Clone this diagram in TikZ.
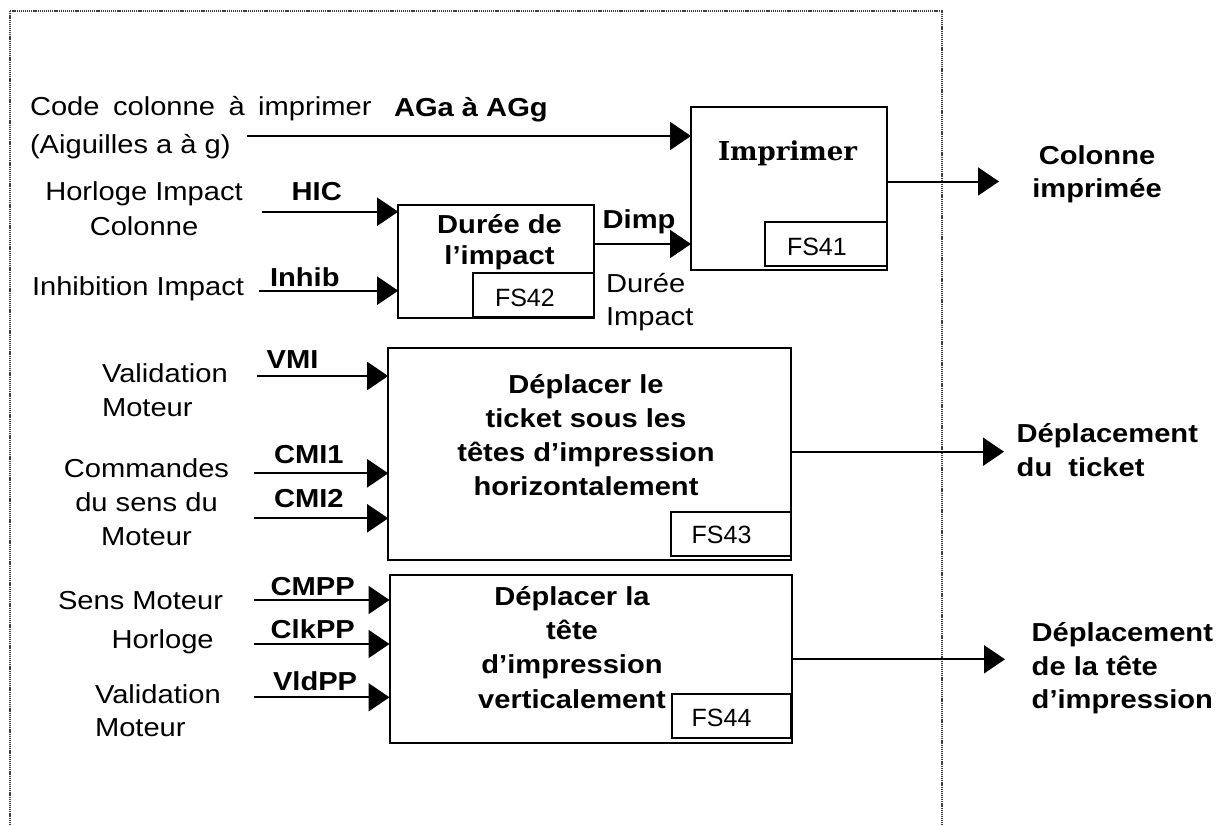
\documentclass[tikz,border=0pt]{standalone}
\usepackage{fontspec}
\setmainfont{Liberation Sans}[FakeStretch=1.12]
\newfontfamily\fsfont{Liberation Sans}
\newfontfamily\impfont{DejaVu Serif}
\usetikzlibrary{arrows.meta}
\newcommand{\widesp}{\spaceskip=13.5pt\relax}
\begin{document}
\begin{tikzpicture}[x=1pt,y=-1pt,
  lbl/.style={inner sep=0pt, outer sep=0pt, font=\fontsize{26}{34}\selectfont},
  bl/.style={lbl, font=\fontsize{26}{34}\selectfont\bfseries},
  fslbl/.style={inner sep=0pt, outer sep=0pt, font=\fsfont\fontsize{25}{30}\selectfont},
  fbox/.style={draw=black, line width=2pt, inner sep=0pt, outer sep=0pt},
  arr/.style={line width=2pt, draw=black, -{Triangle[length=21pt,width=28pt]}},
  frame/.style={line width=2pt, draw=black!75, dash pattern=on 1.2pt off 0.9pt}
]
\useasboundingbox (0,0) rectangle (1231,825);
\fill[white] (0,0) rectangle (1231,825);
% dotted frame
\draw[frame] (10,825) -- (10,10.5) -- (941.5,10.5) -- (941.5,825);

% boxes
\node[fbox, minimum width=196pt, minimum height=163pt] (imp) at (789,188.5) {};
\node[fbox, minimum width=122pt, minimum height=44pt] (fs41) at (826,244) {};
\node[fbox, minimum width=196pt, minimum height=113pt] (dur) at (496.2,261.7) {};
\node[fbox, minimum width=121pt, minimum height=44pt] (fs42) at (533.5,295.2) {};
\node[fbox, minimum width=403pt, minimum height=212pt] (dep) at (589.7,454.2) {};
\node[fbox, minimum width=120pt, minimum height=44pt] (fs43) at (730.8,533.8) {};
\node[fbox, minimum width=402pt, minimum height=168pt] (ver) at (590.5,659.2) {};
\node[fbox, minimum width=119pt, minimum height=44pt] (fs44) at (731.3,716.2) {};

% box texts (multi-line nodes: base = baseline of last line)
\node[lbl, font=\impfont\bfseries\fontsize{26}{30}\selectfont, anchor=base west] (timp) at (718,160.7) {Imprimer};
\node[fslbl, anchor=base west] (tfs41) at (787,255.7) {FS41};
\node[bl, align=center, anchor=base] (tdur) at (499.5,264) {Durée de\\[-3pt]l’impact};
\node[fslbl, anchor=base west] (tfs42) at (495,306.7) {FS42};
\node[bl, align=center, anchor=base] (tdep) at (586,495.3) {Déplacer le\\ticket sous les\\têtes d’impression\\horizontalement};
\node[fslbl, anchor=base west] (tfs43) at (691.7,543) {FS43};
\node[bl, align=center, anchor=base] (tver) at (572,708.3) {Déplacer la\\[0.4pt]tête\\[0.4pt]d’impression\\[0.4pt]verticalement};
\node[fslbl, anchor=base west] (tfs44) at (691.7,726.7) {FS44};

% input labels
\node[lbl, anchor=base west] (tcode) at (30,115) {\widesp Code colonne à imprimer};
\node[bl, anchor=base west] (tag) at (394,116.5) {AGa à AGg};
\node[lbl, anchor=base west] (taig) at (30,153) {(Aiguilles a à g)};
\node[lbl, align=center, anchor=base] (thor) at (144,235) {Horloge Impact\\[1pt]Colonne};
\node[lbl, anchor=base west] (tinh) at (32,295) {Inhibition Impact};
\node[bl, anchor=base west] (thic) at (291.7,200) {HIC};
\node[bl, anchor=base west] (tinhib) at (270,286.7) {Inhib};
\node[bl, anchor=base west] (tdimp) at (602.7,228) {Dimp};
\node[lbl, align=left, anchor=base west] (tduri) at (606,325) {Durée\\[-1.7pt]Impact};

\node[lbl, align=left, anchor=base west] (tval1) at (102,416) {Validation\\Moteur};
\node[lbl, align=center, anchor=base] (tcom) at (146.5,545.7) {Commandes\\du sens du\\Moteur};
\node[bl, anchor=base west] (tvmi) at (266.7,368.3) {VMI};
\node[bl, anchor=base west] (tcmi1) at (274,463.3) {CMI1};
\node[bl, anchor=base west] (tcmi2) at (274,507.7) {CMI2};

\node[lbl, anchor=base west] (tsens) at (58,609.3) {Sens Moteur};
\node[lbl, anchor=base west] (thorl) at (111.7,648) {Horloge};
\node[lbl, align=left, anchor=base west] (tval2) at (95,736.7) {Validation\\[-0.6pt]Moteur};
\node[bl, anchor=base west] (tcmpp) at (270.7,595) {CMPP};
\node[bl, anchor=base west] (tclk) at (270.7,638.3) {ClkPP};
\node[bl, anchor=base west] (tvld) at (273,690) {VldPP};

% output labels
\node[bl, align=center, anchor=base] (tcol) at (1097,197.3) {Colonne\\[-0.7pt]imprimée};
\node[bl, align=left, anchor=base west] (tdt) at (1016.7,476) {Déplacement\\du\ \ ticket};
\node[bl, align=left, anchor=base west] (tdh) at (1031.7,708.3) {Déplacement\\[-0.7pt]de la tête\\[-0.7pt]d’impression};

% free ends
\coordinate (scode) at (246.7,136);
\coordinate (shic) at (261.7,211.7);
\coordinate (sinh) at (259,290.7);
\coordinate (svmi) at (257,376);
\coordinate (scmi1) at (254,473.3);
\coordinate (scmi2) at (254,518.3);
\coordinate (scmpp) at (254,600);
\coordinate (sclk) at (254,644);
\coordinate (svld) at (254,697.3);
\coordinate (oimp) at (999,181.5);
\coordinate (odep) at (1004,451.7);
\coordinate (over) at (1005,659.3);
\coordinate (ydimp) at (0,244);

% connectors
\draw[arr] (scode) -- (scode -| imp.west);
\draw[arr] (shic) -- (shic -| dur.west);
\draw[arr] (sinh) -- (sinh -| dur.west);
\draw[arr] (ydimp -| dur.east) -- (ydimp -| imp.west);
\draw[arr] (oimp -| imp.east) -- (oimp);
\draw[arr] (svmi) -- (svmi -| dep.west);
\draw[arr] (scmi1) -- (scmi1 -| dep.west);
\draw[arr] (scmi2) -- (scmi2 -| dep.west);
\draw[arr] (odep -| dep.east) -- (odep);
\draw[arr] (scmpp) -- (scmpp -| ver.west);
\draw[arr] (sclk) -- (sclk -| ver.west);
\draw[arr] (svld) -- (svld -| ver.west);
\draw[arr] (over -| ver.east) -- (over);
\end{tikzpicture}
\end{document}
